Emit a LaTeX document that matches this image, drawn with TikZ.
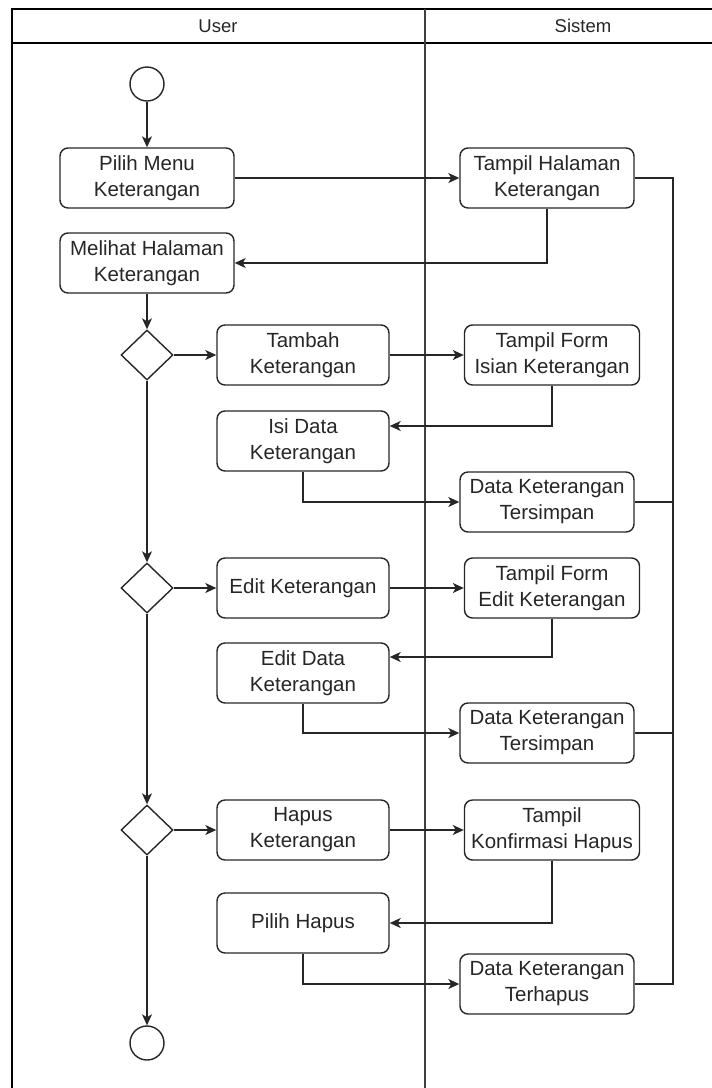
\documentclass[tikz,border=0pt]{standalone}
\usepackage{fontspec}
\setmainfont{Liberation Sans}
\usetikzlibrary{shapes.geometric,arrows.meta}
\begin{document}
\begin{tikzpicture}[x=1pt,y=-1pt,
  txt/.style={font=\fontsize{20.5}{26}\selectfont, text=black!85},
  act/.style={txt, draw=black!85, line width=1.4pt, rounded corners=8pt,
    minimum width=174pt, minimum height=60pt, align=center, inner sep=0pt},
  dec/.style={draw=black!85, line width=1.4pt, diamond, aspect=1,
    minimum width=52pt, minimum height=50pt, inner sep=0pt},
  term/.style={draw=black!85, line width=1.4pt, circle, minimum size=34pt, inner sep=0pt},
  flow/.style={draw=black!85, line width=1.4pt, -{Stealth[length=11pt,width=10pt,inset=3pt]}},
  link/.style={draw=black!85, line width=1.4pt},
  lane/.style={draw=black, line width=1.8pt}]
\useasboundingbox (0,0) rectangle (712,1088);

% swimlane frame
\draw[lane] (12,1088) -- (12,9) -- (712,9);
\draw[lane] (12,43) -- (712,43);
\draw[draw=black!75, line width=1.8pt] (425,9) -- (425,1088);
\node[txt, font=\fontsize{18.5}{22}\selectfont] (hUser) at (218,26) {User};
\node[txt, font=\fontsize{18.5}{22}\selectfont] (hSistem) at (583,26) {Sistem};

% nodes
\node[term] (start) at (147,84) {};
\node[act] (pilih) at (147,178) {Pilih Menu\\Keterangan};
\node[act] (tampilHal) at (547,178) {Tampil Halaman\\Keterangan};
\node[act] (melihat) at (147,263) {Melihat Halaman\\Keterangan};

\node[dec] (d1) at (147,355) {};
\node[act, minimum width=172pt] (tambah) at (303,355) {Tambah\\Keterangan};
\node[act, minimum width=175pt] (formIsian) at (552,355) {Tampil Form\\Isian Keterangan};
\node[act, minimum width=172pt] (isi) at (303,441) {Isi Data\\Keterangan};
\node[act] (tersimpanA) at (547,502) {Data Keterangan\\Tersimpan};

\node[dec] (d2) at (147,588) {};
\node[act, minimum width=172pt] (edit) at (303,588) {Edit Keterangan};
\node[act, minimum width=175pt] (formEdit) at (552,588) {Tampil Form\\Edit Keterangan};
\node[act, minimum width=172pt] (editData) at (303,673) {Edit Data\\Keterangan};
\node[act] (tersimpanB) at (547,733) {Data Keterangan\\Tersimpan};

\node[dec] (d3) at (147,830) {};
\node[act, minimum width=172pt] (hapus) at (303,830) {Hapus\\Keterangan};
\node[act, minimum width=175pt] (konfirm) at (552,830) {Tampil\\Konfirmasi Hapus};
\node[act, minimum width=172pt] (pilihHapus) at (303,923) {Pilih Hapus};
\node[act] (terhapus) at (547,984) {Data Keterangan\\Terhapus};

\node[term] (end) at (147,1043) {};

\coordinate (railEnd) at (673,984);

% connectors
\draw[flow] (start) -- (pilih);
\draw[flow] (pilih) -- (tampilHal);
\draw[flow] (tampilHal.south) |- (melihat.east);
\draw[link] (tampilHal.east) -| (railEnd) -- (terhapus.east);
\draw[link] (tersimpanA.east) -- (tersimpanA.east -| railEnd);
\draw[link] (tersimpanB.east) -- (tersimpanB.east -| railEnd);
\draw[flow] (melihat) -- (d1);

\draw[flow] (d1) -- (tambah);
\draw[flow] (tambah) -- (formIsian);
\draw[flow] (formIsian.south) |- ([yshift=15pt]isi.east);
\draw[flow] (isi.south) |- (tersimpanA.west);
\draw[flow] (d1) -- (d2);

\draw[flow] (d2) -- (edit);
\draw[flow] (edit) -- (formEdit);
\draw[flow] (formEdit.south) |- ([yshift=16pt]editData.east);
\draw[flow] (editData.south) |- (tersimpanB.west);
\draw[flow] (d2) -- (d3);

\draw[flow] (d3) -- (hapus);
\draw[flow] (hapus) -- (konfirm);
\draw[flow] (konfirm.south) |- (pilihHapus.east);
\draw[flow] (pilihHapus.south) |- (terhapus.west);
\draw[flow] (d3) -- (end);
\end{tikzpicture}
\end{document}
